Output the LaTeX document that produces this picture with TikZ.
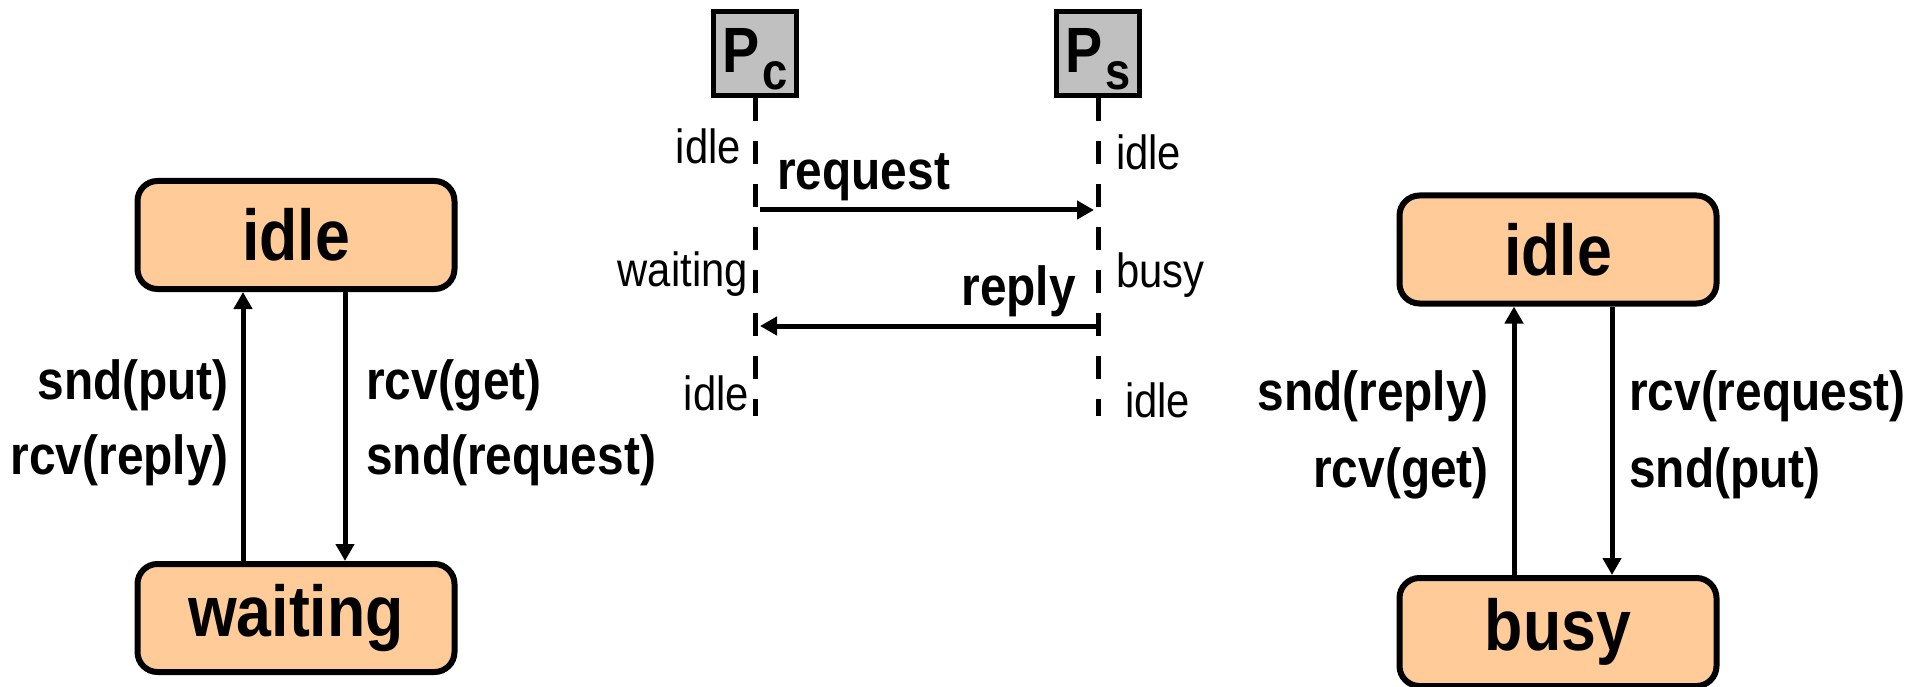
\documentclass[tikz,border=0pt]{standalone}
\usepackage{fontspec}
\setmainfont{Liberation Sans}[FakeStretch=0.87]
\usetikzlibrary{arrows.meta}
\definecolor{peach}{HTML}{FFCC99}
\definecolor{procgray}{HTML}{C0C0C0}
\newcommand{\bigtxt}{\fontsize{72}{80}\selectfont\bfseries}
\newcommand{\lbltxt}{\fontsize{55}{60}\selectfont\bfseries}
\newcommand{\smtxt}{\fontsize{48}{52}\selectfont}
\newcommand{\procname}[1]{{\fontsize{64}{64}\selectfont\bfseries P}\kern3pt\raisebox{-17pt}{\fontsize{52}{52}\selectfont\bfseries #1}}

\begin{document}
\begin{tikzpicture}[x=1pt, y=-1pt,
		state/.style = {draw, line width=6pt, fill=peach, rounded corners=20pt, minimum width=317pt, minimum height=108pt, inner sep=0pt, font=\bigtxt},
		proc/.style = {draw, line width=5pt, fill=procgray, minimum width=83pt, minimum height=84pt, inner sep=0pt, text height=46pt, text depth=7pt},
		trans/.style = {line width=5pt, -{Triangle[length=17pt, width=18pt]}},
		life/.style = {line width=5pt, dash pattern=on 23pt off 20pt},
		lbl/.style = {font=\lbltxt, inner sep=0pt},
		st/.style = {font=\smtxt, inner sep=0pt}]
	\useasboundingbox (0,0) rectangle (1928,687);

	% client
	\node[state] (ci) at (296,235) {idle};
	\node[state] (cw) at (296,618) {waiting};
	\draw[trans] ([xshift=-53pt]cw.north) -- ([xshift=-53pt]ci.south);
	\draw[trans] ([xshift=49pt]ci.south) -- ([xshift=49pt]cw.north);
	\node[lbl, anchor=east] (c1) at (229,385) {snd(put)};
	\node[lbl, anchor=east] (c2) at (229,460) {rcv(reply)};
	\node[lbl, anchor=west] (c3) at (366,385) {rcv(get)};
	\node[lbl, anchor=west] (c4) at (366,460) {snd(request)};

	% message sequence
	\node[proc] (pc) at (755,53.5) {\procname{c}};
	\node[proc] (ps) at (1098,53.5) {\procname{s}};
	\coordinate (pce) at (755,416);
	\coordinate (pse) at (1098,416);
	\draw[life] (pc.south) -- (pce);
	\draw[life] (ps.south) -- (pse);

	\coordinate (rq0) at (760,210);
	\coordinate (rq1) at (1094,210);
	\coordinate (rp0) at (1098,326);
	\coordinate (rp1) at (760,326);
	\draw[trans] (rq0) -- (rq1);
	\draw[trans] (rp0) -- (rp1);
	\node[lbl, anchor=west] (m1) at (777,177) {request};
	\node[lbl, anchor=east] (m2) at (1076,291) {reply};

	\node[st, anchor=east] (sc1) at (741,146) {idle};
	\node[st, anchor=east] (sc2) at (748,274) {waiting};
	\node[st, anchor=east] (sc3) at (749,393) {idle};
	\node[st, anchor=west] (ss1) at (1116,152) {idle};
	\node[st, anchor=west] (ss2) at (1116,275) {busy};
	\node[st, anchor=west] (ss3) at (1125,400) {idle};

	% server
	\node[state] (si) at (1558,249.5) {idle};
	\node[state] (sb) at (1558,632) {busy};
	\draw[trans] ([xshift=-44pt]sb.north) -- ([xshift=-44pt]si.south);
	\draw[trans] ([xshift=54pt]si.south) -- ([xshift=54pt]sb.north);
	\node[lbl, anchor=east] (s1) at (1489,396) {snd(reply)};
	\node[lbl, anchor=east] (s2) at (1489,473) {rcv(get)};
	\node[lbl, anchor=west] (s3) at (1629,396) {rcv(request)};
	\node[lbl, anchor=west] (s4) at (1629,473) {snd(put)};
\end{tikzpicture}
\end{document}
